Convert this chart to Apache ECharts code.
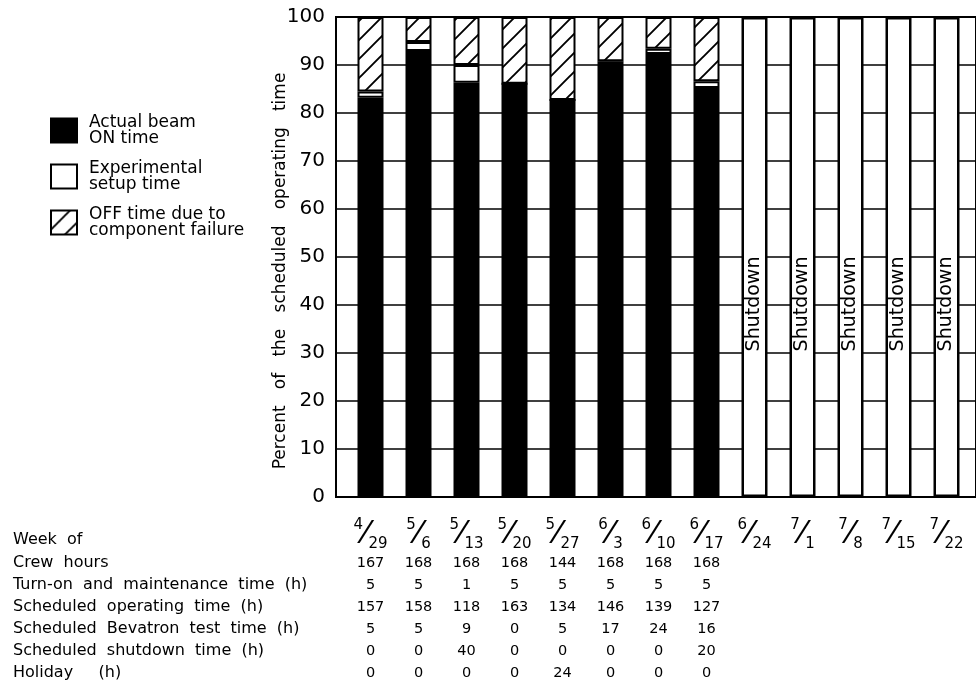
<!DOCTYPE html>
<html><head><meta charset="utf-8">
<script src="https://cdn.jsdelivr.net/npm/echarts@6/dist/echarts.min.js"></script>
<style>html,body{margin:0;padding:0;background:#fff}#c{width:976px;height:699px}</style>
</head><body><div id="c"></div>
<script>
// ---- data ----
const weeks = ['4/29','5/6','5/13','5/20','5/27','6/3','6/10','6/17','6/24','7/1','7/8','7/15','7/22'];
const beamOn  = [83.2, 92.9, 86.3, 86.1, 82.7, 90.2, 92.3, 85.2, '-', '-', '-', '-', '-'];
const setupT  = [1.3, 1.9, 3.7, 0, 0, 0.6, 1.1, 1.4, '-', '-', '-', '-', '-'];
const offT    = [15.5, 5.2, 10.0, 13.9, 17.3, 9.2, 6.6, 13.4, '-', '-', '-', '-', '-'];
const shutdownPct = ['-', '-', '-', '-', '-', '-', '-', '-', 100, 100, 100, 100, 100];

const rowLabels = ['Week  of', 'Crew  hours', 'Turn-on  and  maintenance  time  (h)', 'Scheduled  operating  time  (h)',
  'Scheduled  Bevatron  test  time  (h)', 'Scheduled  shutdown  time  (h)', 'Holiday     (h)'];
const crewHours     = [167, 168, 168, 168, 144, 168, 168, 168];
const turnOn        = [5, 5, 1, 5, 5, 5, 5, 5];
const schedOp       = [157, 158, 118, 163, 134, 146, 139, 127];
const bevatronTest  = [5, 5, 9, 0, 5, 17, 24, 16];
const schedShutdown = [0, 0, 40, 0, 0, 0, 0, 20];
const holiday       = [0, 0, 0, 0, 24, 0, 0, 0];

const FONT = 'DejaVu Sans';

function hatch() {
  const s = 19;
  const c = document.createElement('canvas'); c.width = s; c.height = s;
  const g = c.getContext('2d');
  g.fillStyle = '#fff'; g.fillRect(0, 0, s, s);
  g.strokeStyle = '#000'; g.lineWidth = 1.9;
  g.beginPath();
  g.moveTo(-2, s + 2); g.lineTo(s + 2, -2);
  g.moveTo(-2, 2); g.lineTo(2, -2);
  g.moveTo(s - 2, s + 2); g.lineTo(s + 2, s - 2);
  g.stroke();
  return { image: c, repeat: 'repeat' };
}

function colLabel(val, i) {
  const p = weeks[i].split('/');
  let s = '{n|' + p[0] + '}{s|\u2044}{d|' + p[1] + '}';
  const rows = [crewHours, turnOn, schedOp, bevatronTest, schedShutdown, holiday];
  if (i < crewHours.length) rows.forEach(r => { s += '\n{v|' + r[i] + '}'; });
  return s;
}

const rowY = [540, 563, 585, 607, 629, 651, 673];
const graphics = rowLabels.map((t, k) => ({
  type: 'text', x: 13, y: rowY[k],
  style: { text: t, fontSize: 16, fontFamily: FONT, fill: '#000', verticalAlign: 'middle', align: 'left' }
}));

const chart = echarts.init(document.getElementById('c'));
const barBorder = { borderColor: '#000', borderWidth: 2 };
chart.setOption({
  animation: false,
  backgroundColor: '#fff',
  textStyle: { fontFamily: FONT, color: '#000' },
  graphic: graphics,
  grid: [
    { left: 336, top: 17, width: 670, height: 480, show: true, borderColor: '#000', borderWidth: 2 },
    { left: 346.5, top: 17, width: 624, height: 480, show: false }
  ],
  legend: {
    orient: 'vertical', left: 45, top: 109, itemWidth: 26, itemHeight: 24, itemGap: 13,
    icon: 'rect',
    data: ['Actual beam\nON time', 'Experimental\nsetup time', 'OFF time due to\ncomponent failure'],
    textStyle: { fontFamily: FONT, fontSize: 17, lineHeight: 16, color: '#000', padding: [0, 0, 0, 7] },
    selectedMode: false
  },
  xAxis: [
    { gridIndex: 0, type: 'value', min: 0, max: 1, show: false },
    { gridIndex: 1, type: 'category', data: weeks, boundaryGap: true,
      axisLine: { show: false }, axisTick: { show: false }, splitLine: { show: false },
      axisLabel: {
        interval: 0, margin: 21, color: '#000', fontFamily: FONT,
        formatter: colLabel,
        rich: {
          n: { fontSize: 15, lineHeight: 18, verticalAlign: 'top', fontFamily: FONT, color: '#000' },
          s: { fontSize: 32, lineHeight: 34, verticalAlign: 'middle', fontFamily: FONT, color: '#000' },
          d: { fontSize: 15, lineHeight: 20, verticalAlign: 'bottom', fontFamily: FONT, color: '#000' },
          v: { fontSize: 14.5, lineHeight: 22, fontFamily: FONT, color: '#000' }
        }
      }
    }
  ],
  yAxis: [
    { gridIndex: 0, type: 'value', min: 0, max: 100, interval: 10,
      axisLine: { show: true, lineStyle: { color: '#000', width: 2 } },
      axisTick: { show: false },
      axisLabel: { fontSize: 20, margin: 11, color: '#000', fontFamily: FONT },
      splitLine: { show: true, lineStyle: { color: '#000', width: 1.5 } },
      name: 'Percent   of   the   scheduled   operating   time',
      nameLocation: 'middle', nameGap: 47, nameMoveOverlap: false,
      nameTextStyle: { fontSize: 17, fontFamily: FONT, color: '#000', padding: [0, 28, 0, 0] }
    },
    { gridIndex: 1, type: 'value', min: 0, max: 100, show: false }
  ],
  series: [
    { name: 'Actual beam\nON time', type: 'bar', stack: 'a', barWidth: 26, xAxisIndex: 1, yAxisIndex: 1, data: beamOn,
      itemStyle: Object.assign({ color: '#000' }, barBorder) },
    { name: 'Experimental\nsetup time', type: 'bar', stack: 'a', barWidth: 26, xAxisIndex: 1, yAxisIndex: 1, data: setupT,
      itemStyle: Object.assign({ color: '#fff' }, barBorder) },
    { name: 'OFF time due to\ncomponent failure', type: 'bar', stack: 'a', barWidth: 26, xAxisIndex: 1, yAxisIndex: 1, data: offT,
      itemStyle: Object.assign({ color: hatch() }, barBorder) },
    { name: 'Shutdown', type: 'bar', stack: 'a', barWidth: 26, xAxisIndex: 1, yAxisIndex: 1, data: shutdownPct,
      itemStyle: { color: '#fff', borderColor: '#000', borderWidth: 2.5 },
      label: { show: true, position: 'inside', rotate: 90, offset: [-47, 0], formatter: 'Shutdown',
        fontSize: 19, fontFamily: FONT, color: '#000' } }
  ]
});
</script></body></html>
